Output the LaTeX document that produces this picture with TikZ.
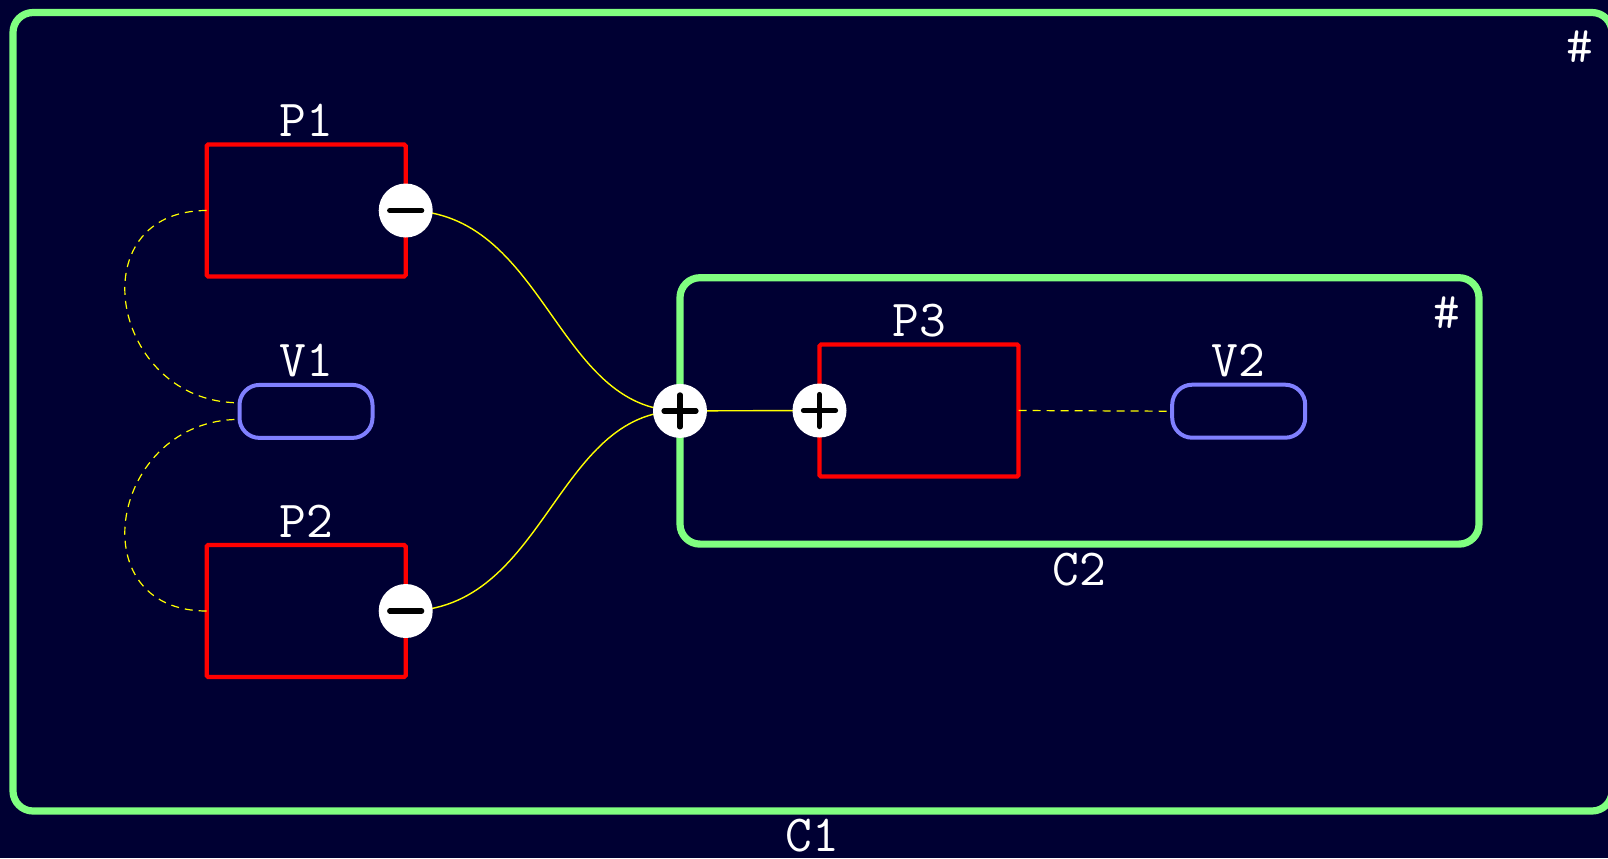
\documentclass[tikz,border=0pt]{standalone}
\usepackage{fontspec}
\pgfdeclarelayer{wires}
\pgfsetlayers{wires,main}
\begin{document}
\begin{tikzpicture}[x=0.5pt,y=-0.5pt,
  every node/.style={inner sep=0pt,outer sep=0pt},
  cont/.style={draw=cgreen,line width=3.6pt,rounded corners=10pt,rectangle},
  pbox/.style={draw=cred,line width=2.2pt,rectangle,minimum width=99.5pt,minimum height=66pt,rounded corners=0.8pt},
  vbox/.style={draw=cblue,line width=2pt,rectangle,rounded corners=10pt,minimum width=66.5pt,minimum height=26.5pt},
  txt/.style={text=white,font=\fontsize{26}{30}\selectfont\ttfamily,anchor=base},
  hash/.style={text=white,font=\fontsize{26}{30}\selectfont\ttfamily,anchor=center},
  port/.style={circle,fill=white,minimum size=27pt},
  bar/.style={line width=2.6pt,line cap=round,black},
  wire/.style={cyellow,line width=0.7pt},
  dwire/.style={cyellow,line width=0.6pt,dash pattern=on 4pt off 3pt}]
\definecolor{bg}{RGB}{0,0,51}
\definecolor{cgreen}{RGB}{128,255,128}
\definecolor{cred}{RGB}{255,0,0}
\definecolor{cblue}{RGB}{128,128,255}
\definecolor{cyellow}{RGB}{255,255,0}
\useasboundingbox (0,0) rectangle (1608,858);
\begin{pgfonlayer}{wires}
\fill[bg] (0,0) rectangle (1608,858);
\end{pgfonlayer}
\clip (0,0) rectangle (1608,858);

% containers
\node[cont,minimum width=799.5pt,minimum height=399.25pt] (C1) at (812.5,411.75) {};
\node[cont,minimum width=399.5pt,minimum height=133.2pt] (C2) at (1079.5,410.9) {};
\node[txt] (C1l) at ([yshift=-20pt]C1.south) {C1};
\node[txt] (C2l) at ([yshift=-20.5pt]C2.south) {C2};
\node[hash] (C1h) at ([shift={(-32,34.5)}]C1.north east) {\#};
\node[hash] (C2h) at ([shift={(-32,35)}]C2.north east) {\#};

% boxes
\node[pbox] (P1) at (306.2,210.5) {};
\node[pbox] (P2) at (306.2,611) {};
\node[pbox] (P3) at (919,410.5) {};
\node[vbox] (V1) at (306,411.4) {};
\node[vbox] (V2) at (1238.7,411.2) {};
\node[txt] (P1l) at ([yshift=4pt]P1.north) {P1};
\node[txt] (P2l) at ([yshift=4pt]P2.north) {P2};
\node[txt] (P3l) at ([yshift=4pt]P3.north) {P3};
\node[txt] (V1l) at ([yshift=4pt]V1.north) {V1};
\node[txt] (V2l) at ([yshift=4pt]V2.north) {V2};

% ports
\node[port] (m1) at (P1.east) {};
\node[port] (m2) at (P2.east) {};
\node[port] (q1) at (C2.west) {};
\node[port] (q2) at (P3.west) {};

% connectors
\begin{pgfonlayer}{wires}
\draw[wire] (m1.center) .. controls +(140,0) and +(-125,0) .. (q1.center);
\draw[wire] (m2.center) .. controls +(140,0) and +(-125,0) .. (q1.center);
\draw[wire] (q1.center) -- (q2.center);
\end{pgfonlayer}
\draw[dwire] (P3.east) -- (V2.west);
\draw[dwire] (P1.west) .. controls +(-129,0) and +(-129,0) .. ([yshift=4.3pt]V1.west);
\draw[dwire] (P2.west) .. controls +(-129,0) and +(-129,0) .. ([yshift=-4pt]V1.west);

% port symbols
\draw[bar] ([xshift=-8pt]m1.center) -- ([xshift=8pt]m1.center);
\draw[bar] ([xshift=-8pt]m2.center) -- ([xshift=8pt]m2.center);
\draw[bar] ([xshift=-8pt]q1.center) -- ([xshift=8pt]q1.center);
\draw[bar] ([yshift=-8pt]q1.center) -- ([yshift=8pt]q1.center);
\draw[bar] ([xshift=-8pt]q2.center) -- ([xshift=8pt]q2.center);
\draw[bar] ([yshift=-8pt]q2.center) -- ([yshift=8pt]q2.center);
\end{tikzpicture}
\end{document}
